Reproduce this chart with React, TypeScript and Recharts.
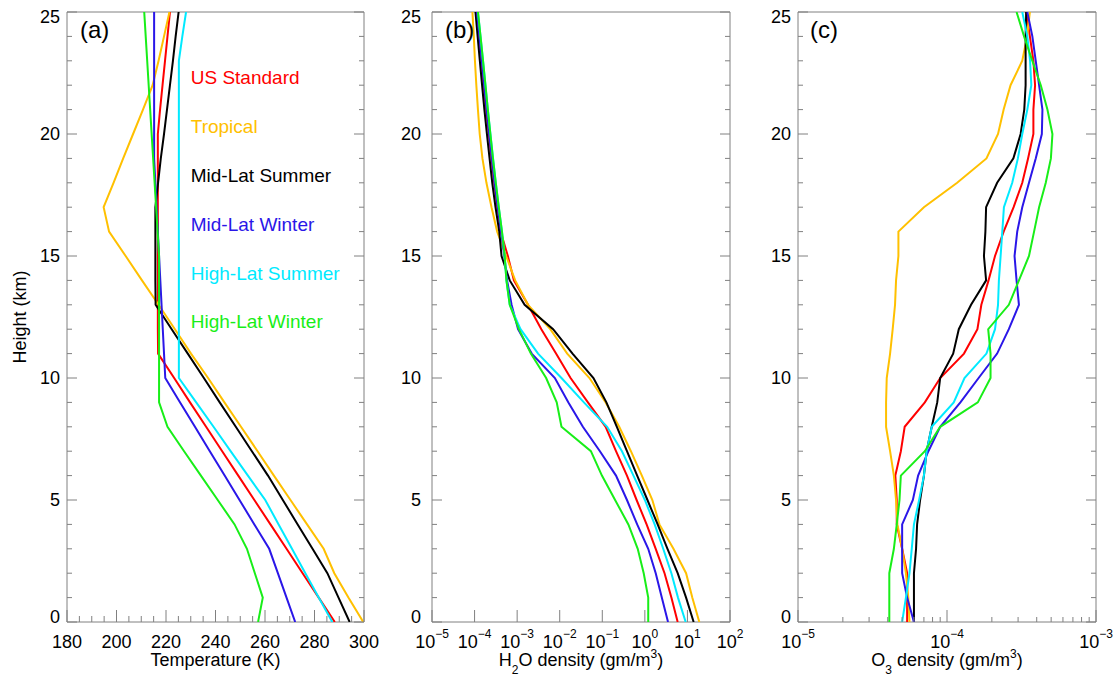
import { ScatterChart, Scatter, XAxis, YAxis, ReferenceDot } from 'recharts'

const FONT = '"Liberation Sans", Arial, Helvetica, sans-serif'
const frameColor = '#808080'

// heights (km) shared by every profile
const heights = [0, 1, 2, 3, 4, 5, 6, 7, 8, 9, 10, 11, 12, 13, 14, 15, 16, 17, 18, 19, 20, 21, 22, 23, 24, 25]

const profileNames = ['US Standard', 'Tropical', 'Mid-Lat Summer', 'Mid-Lat Winter', 'High-Lat Summer', 'High-Lat Winter']
const profileColors = ['#ff0000', '#ffc000', '#000000', '#2a16e8', '#00eaff', '#18ee18']

// temperature (K)
const tempUsStd = [288.2, 281.7, 275.2, 268.7, 262.2, 255.7, 249.2, 242.7, 236.2, 229.7, 223.3, 216.8, 216.7, 216.7, 216.7, 216.7, 216.7, 216.7, 216.7, 216.7, 216.7, 217.6, 218.6, 219.6, 220.6, 221.6]
const tempTropical = [299.7, 293.7, 288.0, 283.7, 277.0, 270.3, 263.6, 257.0, 250.3, 243.6, 237.0, 230.1, 223.6, 217.0, 210.3, 203.7, 197.0, 194.8, 198.8, 202.7, 206.7, 210.7, 214.6, 217.0, 219.2, 221.4]
const tempMidSummer = [294.2, 289.7, 285.2, 279.2, 273.2, 267.2, 261.2, 254.7, 248.2, 241.7, 235.3, 228.8, 222.3, 215.8, 215.7, 215.7, 215.7, 215.7, 216.8, 217.9, 219.2, 220.4, 221.6, 222.8, 223.9, 225.1]
const tempMidWinter = [272.2, 268.7, 265.2, 261.7, 255.7, 249.7, 243.7, 237.7, 231.7, 225.7, 219.7, 219.2, 218.7, 218.2, 217.7, 217.2, 216.7, 216.2, 215.7, 215.2, 215.2, 215.2, 215.2, 215.2, 215.2, 215.2]
const tempHighSummer = [287.2, 281.7, 276.3, 270.9, 265.5, 260.1, 253.1, 246.1, 239.2, 232.2, 225.2, 225.2, 225.2, 225.2, 225.2, 225.2, 225.2, 225.2, 225.2, 225.2, 225.2, 225.2, 225.2, 225.2, 226.6, 228.1]
const tempHighWinter = [257.2, 259.1, 255.9, 252.7, 247.7, 240.9, 234.1, 227.3, 220.6, 217.2, 217.2, 217.2, 217.2, 217.2, 217.2, 217.2, 216.6, 216.0, 215.4, 214.8, 214.2, 213.6, 213.0, 212.4, 211.8, 211.2]

// water vapour density (gm/m3)
const h2oUsStd = [5.9, 4.2, 2.9, 1.8, 1.1, 0.64, 0.38, 0.21, 0.12, 0.046, 0.018, 0.0082, 0.0037, 0.0018, 8.4e-4, 6.05e-4, 4.09e-4, 3.41e-4, 2.89e-4, 2.49e-4, 2.16e-4, 1.87e-4, 1.63e-4, 1.44e-4, 1.26e-4, 1.1e-4]
const h2oTropical = [19, 13, 9.3, 4.7, 2.2, 1.5, 0.85, 0.47, 0.25, 0.12, 0.05, 0.015, 0.006, 0.0018, 9.0e-4, 5.5e-4, 3.4e-4, 2.5e-4, 1.9e-4, 1.53e-4, 1.32e-4, 1.2e-4, 1.1e-4, 1.02e-4, 9.6e-5, 8.9e-5]
const h2oMidSummer = [14, 9.3, 5.9, 3.4, 2.0, 1.15, 0.66, 0.38, 0.22, 0.125, 0.062, 0.02, 0.007, 0.0015, 6.7e-4, 4.3e-4, 3.8e-4, 3.1e-4, 2.6e-4, 2.25e-4, 1.95e-4, 1.7e-4, 1.5e-4, 1.33e-4, 1.18e-4, 1.05e-4]
const h2oMidWinter = [3.5, 2.5, 1.8, 1.2, 0.66, 0.38, 0.21, 0.088, 0.035, 0.016, 0.0077, 0.0022, 0.00105, 7.4e-4, 5.8e-4, 5.0e-4, 4.2e-4, 3.5e-4, 2.95e-4, 2.55e-4, 2.2e-4, 1.92e-4, 1.68e-4, 1.48e-4, 1.3e-4, 1.14e-4]
const h2oHighSummer = [9.1, 6.0, 4.2, 2.7, 1.7, 1.0, 0.54, 0.29, 0.13, 0.037, 0.011, 0.0031, 0.0012, 6.7e-4, 5.6e-4, 5.1e-4, 4.4e-4, 3.7e-4, 3.15e-4, 2.72e-4, 2.36e-4, 2.05e-4, 1.8e-4, 1.58e-4, 1.38e-4, 1.2e-4]
const h2oHighWinter = [1.2, 1.2, 0.94, 0.68, 0.41, 0.2, 0.098, 0.054, 0.011, 0.0085, 0.0048, 0.0021, 0.0011, 6.7e-4, 5.6e-4, 5.1e-4, 4.4e-4, 3.7e-4, 3.15e-4, 2.7e-4, 2.35e-4, 2.05e-4, 1.8e-4, 1.58e-4, 1.38e-4, 1.2e-4]

// ozone density (gm/m3)
const o3UsStd = [5.4e-5, 5.4e-5, 5.4e-5, 5.0e-5, 4.6e-5, 4.6e-5, 4.5e-5, 4.9e-5, 5.2e-5, 7.1e-5, 9.0e-5, 1.3e-4, 1.6e-4, 1.7e-4, 1.9e-4, 2.1e-4, 2.4e-4, 2.8e-4, 3.2e-4, 3.5e-4, 3.8e-4, 3.8e-4, 3.9e-4, 3.8e-4, 3.6e-4, 3.4e-4]
const o3Tropical = [5.6e-5, 5.5e-5, 5.3e-5, 5.0e-5, 4.65e-5, 4.55e-5, 4.4e-5, 4.15e-5, 3.9e-5, 3.9e-5, 3.94e-5, 4.15e-5, 4.32e-5, 4.48e-5, 4.55e-5, 4.72e-5, 4.72e-5, 7.0e-5, 1.17e-4, 1.84e-4, 2.2e-4, 2.4e-4, 2.67e-4, 3.2e-4, 3.45e-4, 3.6e-4]
const o3MidSummer = [6.0e-5, 6.0e-5, 6.0e-5, 6.2e-5, 6.3e-5, 6.6e-5, 7.0e-5, 7.3e-5, 7.9e-5, 8.6e-5, 9.0e-5, 1.1e-4, 1.2e-4, 1.45e-4, 1.83e-4, 1.77e-4, 1.81e-4, 1.83e-4, 2.17e-4, 2.79e-4, 3.12e-4, 3.3e-4, 3.37e-4, 3.37e-4, 3.37e-4, 3.4e-4]
const o3MidWinter = [6.0e-5, 5.4e-5, 5.0e-5, 5.0e-5, 5.0e-5, 5.9e-5, 6.4e-5, 7.5e-5, 9.0e-5, 1.23e-4, 1.63e-4, 2.17e-4, 2.6e-4, 3.04e-4, 2.93e-4, 2.84e-4, 2.96e-4, 3.2e-4, 3.55e-4, 3.94e-4, 4.33e-4, 4.37e-4, 4.15e-4, 3.94e-4, 3.74e-4, 3.46e-4]
const o3HighSummer = [5.0e-5, 5.3e-5, 5.6e-5, 5.8e-5, 6.0e-5, 6.5e-5, 7.0e-5, 7.3e-5, 7.9e-5, 1.11e-4, 1.31e-4, 1.84e-4, 2.1e-4, 2.2e-4, 2.23e-4, 2.29e-4, 2.35e-4, 2.41e-4, 2.74e-4, 2.99e-4, 3.2e-4, 3.46e-4, 3.68e-4, 3.61e-4, 3.46e-4, 3.2e-4]
const o3HighWinter = [4.1e-5, 4.1e-5, 4.1e-5, 4.4e-5, 4.6e-5, 4.8e-5, 4.9e-5, 7.1e-5, 9.0e-5, 1.61e-4, 1.96e-4, 1.96e-4, 1.89e-4, 2.6e-4, 3.04e-4, 3.55e-4, 3.84e-4, 4.15e-4, 4.6e-4, 4.98e-4, 5.1e-4, 4.72e-4, 4.26e-4, 3.74e-4, 3.29e-4, 2.93e-4]

// ticks
const heightTicks = [0, 1, 2, 3, 4, 5, 6, 7, 8, 9, 10, 11, 12, 13, 14, 15, 16, 17, 18, 19, 20, 21, 22, 23, 24, 25]
const heightLabels = [0, 5, 10, 15, 20, 25]
const tempTicks = [180, 185, 190, 195, 200, 205, 210, 215, 220, 225, 230, 235, 240, 245, 250, 255, 260, 265, 270, 275, 280, 285, 290, 295, 300]
const tempLabels = [180, 200, 220, 240, 260, 280, 300]
const h2oTicks = [1e-5, 1e-4, 1e-3, 1e-2, 1e-1, 1, 10, 100]
const o3Ticks = [1e-5, 2e-5, 3e-5, 4e-5, 5e-5, 6e-5, 7e-5, 8e-5, 9e-5, 1e-4, 2e-4, 3e-4, 4e-4, 5e-4, 6e-4, 7e-4, 8e-4, 9e-4, 1e-3]
const o3Labels = [1e-5, 1e-4, 1e-3]

// legend anchor in panel (a) data coordinates
const legendTemp = 230
const legendHeights = [22.3, 20.3, 18.3, 16.3, 14.3, 12.3]

const toPoints = (xs: number[]) => xs.map((v, i) => ({ v, h: heights[i] }))

const isLabelled = (labels: number[], v: number) =>
  labels.some((l) => Math.abs(l - v) / l < 1e-6)

const powerLabel = (v: number) => {
  const e = Math.round(Math.log10(v))
  return [
    <tspan key="b">10</tspan>,
    <tspan key="e" dy={-8} fontSize={12}>
      {e < 0 ? '\u2212' + -e : String(e)}
    </tspan>,
  ]
}

const noShape = () => <g />

interface PanelProps {
  width: number
  left: number
  right: number
  domain: [number, number]
  log: boolean
  ticks: number[]
  labels: number[]
  minorLen: number
  yGap: number
  series: number[][]
  legend?: boolean
}

const Panel = ({ width, left, right, domain, log, ticks, labels, minorLen, yGap, series, legend }: PanelProps) => {
  const bottomTick = (p: any) => {
    const v = p.payload.value
    const major = isLabelled(labels, v)
    return (
      <g>
        <line x1={p.x} x2={p.x} y1={p.y} y2={p.y - (major ? 12 : minorLen)} stroke={frameColor} />
        {major ? (
          <text x={p.x} y={p.y + 20} textAnchor="middle" dominantBaseline="central" fontSize={18} fontFamily={FONT} fill="#000">
            {log ? powerLabel(v) : String(v)}
          </text>
        ) : null}
      </g>
    )
  }
  const topTick = (p: any) => {
    const major = isLabelled(labels, p.payload.value)
    return <line x1={p.x} x2={p.x} y1={p.y} y2={p.y + (major ? 12 : minorLen)} stroke={frameColor} />
  }
  const leftTick = (p: any) => {
    const v = p.payload.value
    const major = heightLabels.includes(v)
    const shift = v === 0 ? -5 : v === 25 ? 5 : 0
    return (
      <g>
        <line x1={p.x} x2={p.x + (major ? 10 : 5)} y1={p.y} y2={p.y} stroke={frameColor} />
        {major ? (
          <text x={p.x - yGap} y={p.y + shift} textAnchor="end" dominantBaseline="central" fontSize={18} fontFamily={FONT} fill="#000">
            {String(v)}
          </text>
        ) : null}
      </g>
    )
  }
  const rightTick = (p: any) => {
    const major = heightLabels.includes(p.payload.value)
    return <line x1={p.x} x2={p.x - (major ? 10 : 5)} y1={p.y} y2={p.y} stroke={frameColor} />
  }

  return (
    <ScatterChart width={width} height={677} margin={{ top: 11, right: right - 1, bottom: 54, left: left - 1 }}>
      <XAxis
        xAxisId="b"
        type="number"
        dataKey="v"
        scale={log ? 'log' : 'linear'}
        domain={domain}
        allowDataOverflow
        ticks={ticks}
        interval={0}
        height={1}
        tickSize={0}
        tickMargin={0}
        tickLine={false}
        axisLine={{ stroke: frameColor }}
        tick={bottomTick}
      />
      <XAxis
        xAxisId="t"
        orientation="top"
        type="number"
        scale={log ? 'log' : 'linear'}
        domain={domain}
        allowDataOverflow
        ticks={ticks}
        interval={0}
        height={1}
        tickSize={0}
        tickMargin={0}
        tickLine={false}
        axisLine={{ stroke: frameColor }}
        tick={topTick}
      />
      <YAxis
        yAxisId="l"
        type="number"
        dataKey="h"
        domain={[0, 25]}
        allowDataOverflow
        ticks={heightTicks}
        interval={0}
        width={1}
        tickSize={0}
        tickMargin={0}
        tickLine={false}
        axisLine={{ stroke: frameColor }}
        tick={leftTick}
      />
      <YAxis
        yAxisId="r"
        orientation="right"
        type="number"
        domain={[0, 25]}
        allowDataOverflow
        ticks={heightTicks}
        interval={0}
        width={1}
        tickSize={0}
        tickMargin={0}
        tickLine={false}
        axisLine={{ stroke: frameColor }}
        tick={rightTick}
      />
      {series.map((s, i) => (
        <Scatter
          key={profileNames[i]}
          name={profileNames[i]}
          xAxisId="b"
          yAxisId="l"
          data={toPoints(s)}
          fill={profileColors[i]}
          line={{ stroke: profileColors[i], strokeWidth: 2 }}
          lineJointType="linear"
          shape={noShape}
          isAnimationActive={false}
        />
      ))}
      {legend
        ? profileNames.map((n, i) => (
            <ReferenceDot
              key={n}
              xAxisId="b"
              yAxisId="l"
              x={legendTemp}
              y={legendHeights[i]}
              r={0}
              fill="none"
              stroke="none"
              label={(p: any) => {
                const vb = p.viewBox || {}
                return (
                  <text x={vb.x} y={vb.y} dominantBaseline="central" fontSize={19} fontFamily={FONT} fill={profileColors[i]}>
                    {n}
                  </text>
                )
              }}
            />
          ))
        : null}
    </ScatterChart>
  )
}

const abs = (left: number, top: number): React.CSSProperties => ({ position: 'absolute', left, top })

const App = () => (
  <div style={{ position: 'absolute', left: 0, top: 0, width: 1117, height: 677, background: '#fff', fontFamily: FONT, color: '#000' }}>
    <div style={abs(0, 0)}>
      <Panel
        width={380}
        left={67}
        right={16}
        domain={[180, 300]}
        log={false}
        ticks={tempTicks}
        labels={tempLabels}
        minorLen={6}
        yGap={7}
        series={[tempUsStd, tempTropical, tempMidSummer, tempMidWinter, tempHighSummer, tempHighWinter]}
        legend
      />
    </div>
    <div style={abs(380, 0)}>
      <Panel
        width={370}
        left={52}
        right={20}
        domain={[1e-5, 100]}
        log
        ticks={h2oTicks}
        labels={h2oTicks}
        minorLen={6}
        yGap={11}
        series={[h2oUsStd, h2oTropical, h2oMidSummer, h2oMidWinter, h2oHighSummer, h2oHighWinter]}
      />
    </div>
    <div style={abs(750, 0)}>
      <Panel
        width={367}
        left={48}
        right={21}
        domain={[1e-5, 1e-3]}
        log
        ticks={o3Ticks}
        labels={o3Labels}
        minorLen={5}
        yGap={7}
        series={[o3UsStd, o3Tropical, o3MidSummer, o3MidWinter, o3HighSummer, o3HighWinter]}
      />
    </div>

    <div style={{ ...abs(80, 16), fontSize: 24, lineHeight: '28px' }}>(a)</div>
    <div style={{ ...abs(445, 16), fontSize: 24, lineHeight: '28px' }}>(b)</div>
    <div style={{ ...abs(810, 16), fontSize: 24, lineHeight: '28px' }}>(c)</div>

    <div style={{ position: 'absolute', left: 67, width: 297, top: 649, fontSize: 18, lineHeight: '22px', textAlign: 'center' }}>
      Temperature (K)
    </div>
    <div style={{ position: 'absolute', left: 432, width: 298, top: 649, fontSize: 18, lineHeight: '22px', textAlign: 'center', whiteSpace: 'nowrap' }}>
      H<span style={{ fontSize: 12, position: 'relative', top: 8 }}>2</span>O density (gm/m<span style={{ fontSize: 12, position: 'relative', top: -8 }}>3</span>)
    </div>
    <div style={{ position: 'absolute', left: 798, width: 298, top: 649, fontSize: 18, lineHeight: '22px', textAlign: 'center', whiteSpace: 'nowrap' }}>
      O<span style={{ fontSize: 12, position: 'relative', top: 8 }}>3</span> density (gm/m<span style={{ fontSize: 12, position: 'relative', top: -8 }}>3</span>)
    </div>
    <div
      style={{
        position: 'absolute',
        left: 20 - 60,
        top: 317 - 11,
        width: 120,
        fontSize: 18,
        lineHeight: '22px',
        textAlign: 'center',
        transform: 'rotate(-90deg)',
      }}
    >
      Height (km)
    </div>
  </div>
)

export default App
